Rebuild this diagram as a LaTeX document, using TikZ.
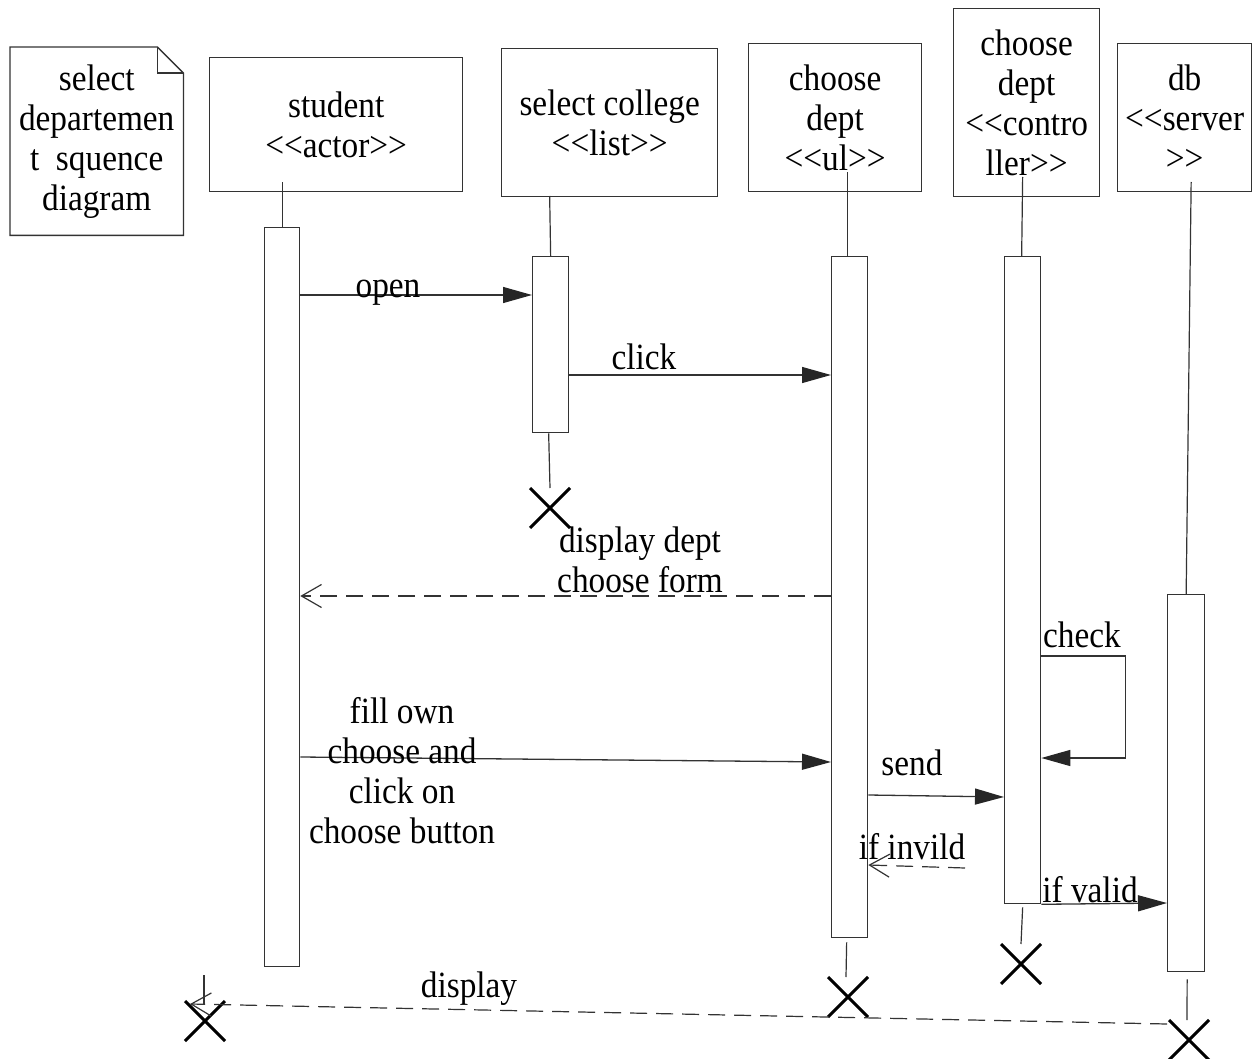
\documentclass[tikz,border=0pt]{standalone}
\usepackage{fontspec}
\newfontfamily\diafont{Liberation Serif}[FakeStretch=0.9]
\usetikzlibrary{arrows.meta,shapes.misc}
\definecolor{linec}{HTML}{333333}
\tikzset{
  txt/.style={font=\diafont\fontsize{37}{40}\selectfont, text=black},
  objbox/.style={txt, draw=linec, line width=1.3pt, inner sep=0pt, anchor=north west, align=center},
  actbox/.style={draw=linec, line width=1.3pt, inner sep=0pt, anchor=north west, fill=white},
  life/.style={draw=linec, line width=1.2pt},
  msg/.style={draw=linec, line width=1.3pt, -{Triangle[length=29pt,width=16pt,fill=black!85,color=black!85]}},
  reply/.style={draw=linec, line width=1.2pt, dash pattern=on 17pt off 9pt, -{Straight Barb[length=20pt,width=23pt]}},
  xmark/.style={cross out, draw=black, line width=3pt, minimum size=37pt, inner sep=0pt},
  lbl/.style={txt, anchor=base, inner sep=0pt, align=center}
}
\begin{document}
\begin{tikzpicture}[x=1pt,y=-1pt]
\useasboundingbox (0,0) rectangle (1253,1059);

% note
\node[txt, anchor=north west, minimum width=173pt, minimum height=188pt, inner sep=0pt, align=center] (note) at (10,47) {select\\departemen\\t~~squence\\diagram};
\draw[life, line width=1.3pt] (note.north west) -- ([xshift=-26pt]note.north east) -- ([yshift=-26pt]note.north east) -- (note.south east) -- (note.south west) -- cycle;
\draw[life] ([xshift=-26pt]note.north east) -- ([xshift=-26pt,yshift=-26pt]note.north east) -- ([yshift=-26pt]note.north east);

% object boxes
\node[objbox, minimum width=253pt, minimum height=134pt] (student) at (209,57) {student\\<<actor>>};
\node[objbox, minimum width=216pt, minimum height=148pt] (sel) at (501,48) {select college\\<<list>>};
\node[objbox, minimum width=173pt, minimum height=148pt] (ui) at (748,43) {choose\\dept\\<<ul>>};
\node[objbox, minimum width=146pt, minimum height=188pt] (ctrl) at (953,8) {choose\\dept\\<<contro\\ller>>};
\node[objbox, minimum width=134pt, minimum height=148pt] (db) at (1117,43) {db\\<<server\\>>};

% activations
\node[actbox, minimum width=35pt, minimum height=739pt] (a1) at (264,227) {};
\node[actbox, minimum width=36pt, minimum height=176pt] (a2) at (532,256) {};
\node[actbox, minimum width=36pt, minimum height=681pt] (a3) at (831,256) {};
\node[actbox, minimum width=36pt, minimum height=647pt] (a4) at (1004,256) {};
\node[actbox, minimum width=37pt, minimum height=377pt] (a5) at (1167,594) {};

% lifelines above
\draw[life] (a1.north) -- ++(0,-45);
\draw[life] (a2.north) -- ++(-1,-60);
\draw[life] ([xshift=-2pt]a3.north) -- ++(0,-84);
\draw[life] ([xshift=-1pt]a4.north) -- ++(1,-79);
\draw[life] (a5.north) -- ++(5,-412);

% destruction marks
\node[xmark] (x2) at (550,508) {};
\node[xmark] (x3) at (848,997) {};
\node[xmark] (x4) at (1021,964) {};
\node[xmark] (x5) at (1189,1040) {};
\node[xmark] (x1) at (205,1021) {};
\draw[life] ([xshift=-2pt]a2.south) -- (x2.north);
\draw[life] ([xshift=-3pt,yshift=-4pt]a3.south) -- ([xshift=-2pt]x3.north);
\draw[life] ([yshift=-3pt]a4.south) -- (x4.north);
\draw[life] ([xshift=1pt,yshift=-7pt]a5.south) -- ([xshift=-2pt]x5.north);
\draw[life] ([shift={(-1pt,46pt)}]x1.center) -- ++(0,30);

% messages
\draw[msg] ([yshift=-68pt]a1.north east) -- ([yshift=-39pt]a2.north west);
\node[lbl] (lopen) at (388,298) {open};
\draw[msg] ([yshift=-119pt]a2.north east) -- ([yshift=-119pt]a3.north west);
\node[lbl] (lclick) at (644,370) {click};
\draw[reply] ([yshift=-340pt]a3.north west) -- ([yshift=-369pt]a1.north east);
\node[lbl] (ldisp) at (640,592) {display dept\\choose form};
\draw[msg] ([yshift=-530pt]a1.north east) -- ([yshift=-506pt]a3.north west);
\node[lbl] (lfill) at (402,843) {fill own\\choose and\\click on\\choose button};
\draw[msg] ([yshift=-539pt]a3.north east) -- ([yshift=-541pt]a4.north west);
\node[lbl] (lsend) at (912,775) {send};
\draw[msg] ([yshift=-400pt]a4.north east) -- ++(84,0) -- ++(0,102) -- ([yshift=-502pt]a4.north east);
\node[lbl] (lcheck) at (1082,647) {check};
\draw[reply] ([shift={(-39pt,-612pt)}]a4.north west) -- ([yshift=-609pt]a3.north east);
\node[lbl] (linv) at (912,859) {if invild};
\draw[msg] (a4.south east) -- ([yshift=-309pt]a5.north west);
\node[lbl] (lval) at (1090,902) {if valid};
\draw[reply] ([yshift=-430pt]a5.north west) -- ([shift={(-15pt,17pt)}]x1.center);
\node[lbl] (ldisplay) at (469,997) {display};
\end{tikzpicture}
\end{document}
